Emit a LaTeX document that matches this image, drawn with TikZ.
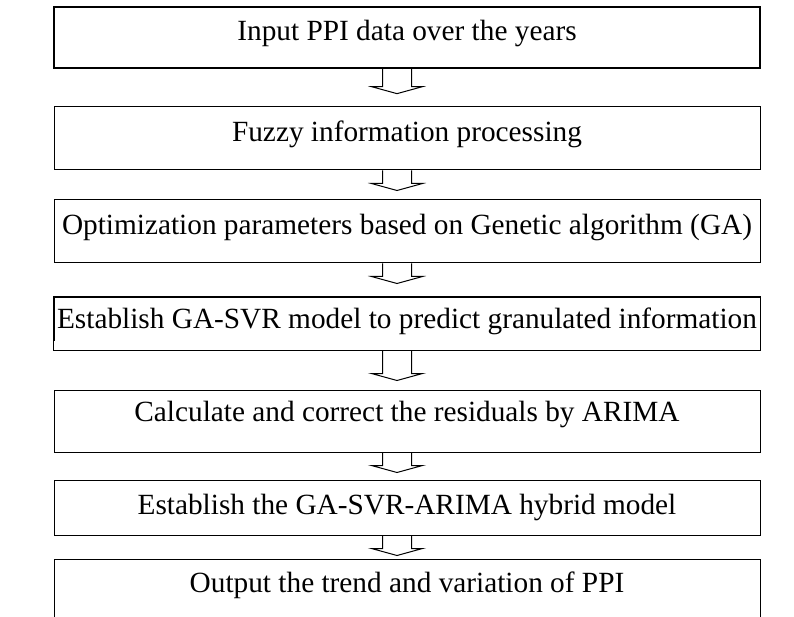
\documentclass[tikz,border=0pt]{standalone}
\usepackage{fontspec}
\setmainfont{Liberation Serif}
\usetikzlibrary{calc}

\tikzset{
  stepbox/.style={draw, line width=1pt, minimum width=706pt, inner sep=0pt,
    text height=0.9em, text depth=0.24em, font=\fontsize{29.3}{34}\selectfont},
  blockarrow/.style={draw, line width=1pt, line join=miter},
}

\begin{document}
\begin{tikzpicture}[x=1pt, y=-1pt]
\useasboundingbox (0,0) rectangle (794,617);
% the seven steps, top to bottom
\node[stepbox, minimum height=61pt, line width=1.3pt] (b1) at (407,37.5) {Input PPI data over the years};
\node[stepbox, minimum height=63pt] (b2) at (407,138.5) {Fuzzy information processing};
\node[stepbox, minimum height=63pt] (b3) at (407,231.5) {Optimization parameters based on Genetic algorithm (GA)};
% text of this one is cut off at the bottom
\begin{scope}
\clip (0,290) rectangle (794,340);
\node[stepbox, minimum height=53pt, text height=0.9em+4pt] (b4) at (407,323.5) {Establish GA-SVR model to predict granulated information};
\end{scope}
\draw[line width=1pt] (b4.south west) rectangle (b4.north east);
\node[stepbox, minimum height=62pt, text depth=0.24em+5pt] (b5) at (407,421) {Calculate and correct the residuals by ARIMA};
\node[stepbox, minimum height=55pt, text height=0.9em+7pt] (b6) at (407,507.5) {Establish the GA-SVR-ARIMA hybrid model};
\node[stepbox, minimum height=60pt] (b7) at (407,589) {Output the trend and variation of PPI};
% hollow arrows hanging under each box
\foreach \a/\len in {b1/25,b2/20,b3/20,b4/30,b5/20,b6/20}
  \draw[blockarrow] ($(\a.south)+(-24.5,0)$) |- ($(\a.south)+(-35.5,{\len-7})$)
    -- ($(\a.south)+(-10,\len)$) -- ($(\a.south)+(15.5,{\len-7})$) -| ($(\a.south)+(4.5,0)$);
\end{tikzpicture}
\end{document}
